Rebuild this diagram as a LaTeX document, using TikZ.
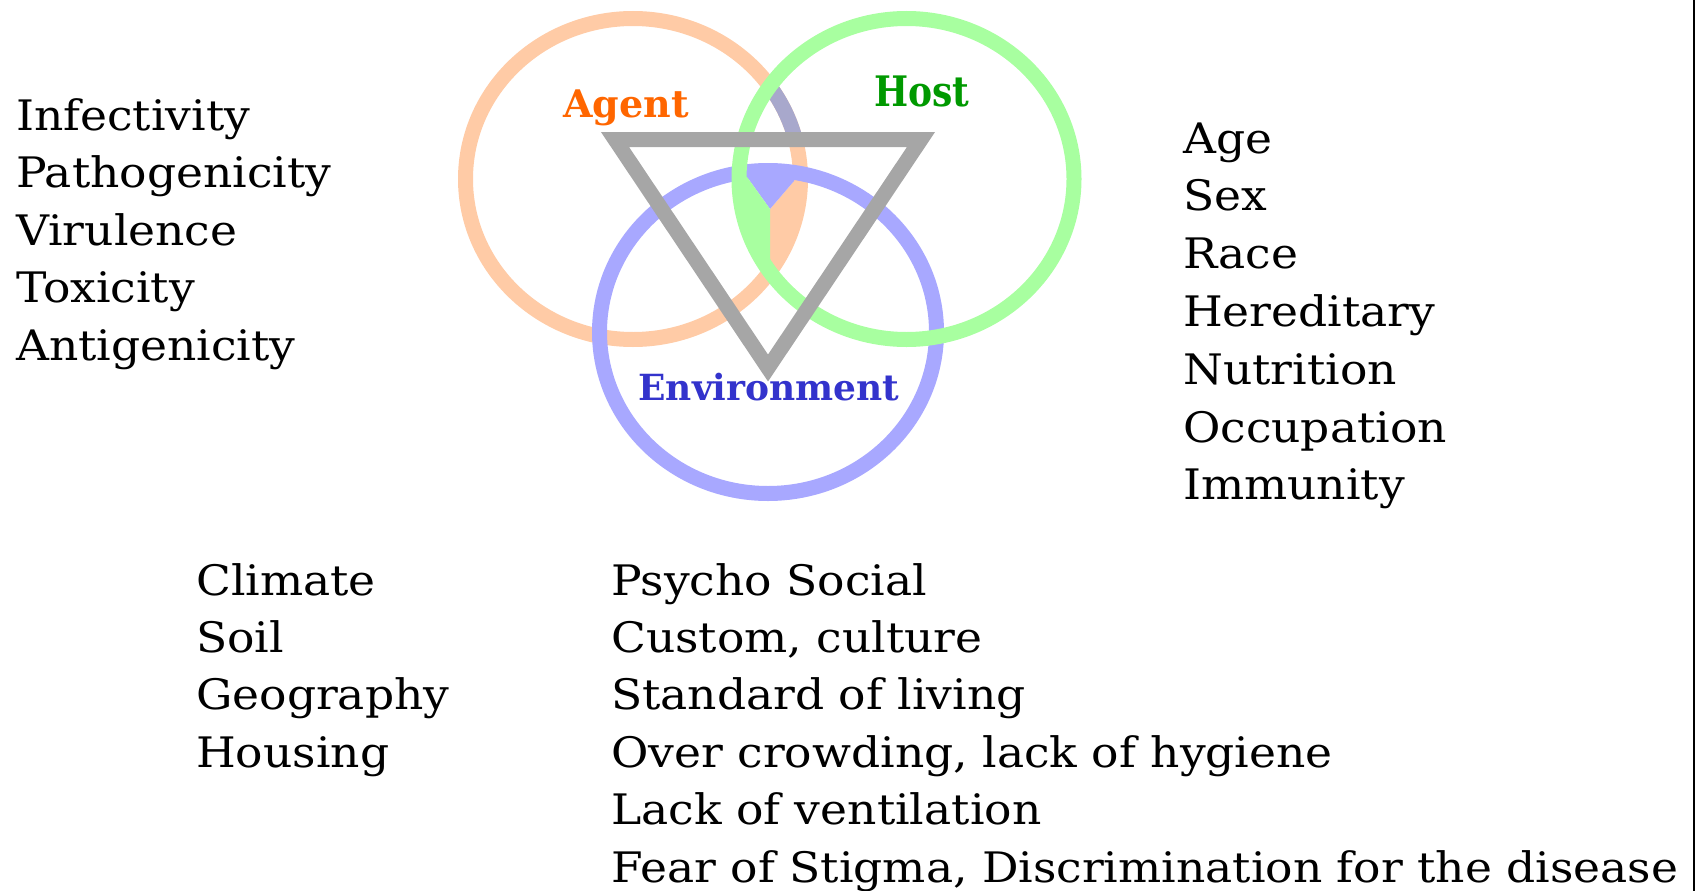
\documentclass[tikz,border=0pt]{standalone}
\usepackage{fontspec}
\setmainfont{DejaVu Serif}[FakeStretch=1.085]
\newfontfamily\titlefont{DejaVu Serif}
\definecolor{agentring}{HTML}{FFCBA6}
\definecolor{hostring}{HTML}{A8FFA0}
\definecolor{envring}{HTML}{A8A8FF}
\definecolor{mixring}{HTML}{A8A8CC}
\definecolor{trigray}{HTML}{A6A6A6}
\definecolor{agenttext}{HTML}{FF6600}
\definecolor{hosttext}{HTML}{009900}
\definecolor{envtext}{HTML}{3333CC}
\begin{document}
\begin{tikzpicture}[x=1pt,y=-1pt,
    ring/.style={line width=15pt},
    title/.style={anchor=base,inner sep=0pt,font=\titlefont\bfseries\fontsize{38}{44}\selectfont},
    item/.style={anchor=base west,inner sep=0pt,font=\fontsize{42}{50}\selectfont}]
\useasboundingbox (0,0) rectangle (1702,891);
\coordinate (agent) at (633,179);
\coordinate (host) at (906.5,179);
\coordinate (env) at (768,332);
% the three rings, agent at the bottom
\draw[ring,agentring] (agent) ellipse (167.5 and 160.5);
\begin{scope}
  \clip (host) ellipse (167.5 and 160.5);
  \clip (700,0) rectangle (850,132);
  \draw[ring,mixring] (agent) ellipse (167.5 and 160.5);
\end{scope}
\begin{scope}
  \clip (agent) ellipse (167.5 and 160.5);
  \fill[agentring] (770,209) -- (794,181) -- (820,181) -- (820,275) -- (770,275) -- cycle;
\end{scope}
\begin{scope}
  \clip (env) ellipse (168.5 and 161.5);
  \fill[envring] (745,150) -- (747,177) -- (770,209) -- (794,181) -- (800,150) -- cycle;
\end{scope}
\draw[ring,envring] (env) ellipse (168.5 and 161.5);
\begin{scope}
  \clip (host) ellipse (167.5 and 160.5);
  \fill[hostring] (720,177) -- (747,177) -- (770,209) -- (770,270) -- (720,270) -- cycle;
\end{scope}
\draw[ring,hostring] (host) ellipse (167.5 and 160.5);
% triangle on top
\coordinate (ta) at (615,139.5);
\coordinate (tb) at (921,139.5);
\coordinate (tc) at (768,368);
\draw[line width=15pt,trigray] (ta) -- (tb) -- (tc) -- cycle;
\node[title,agenttext] (agentlabel) at (626,117) {Agent};
\node[title,hosttext,font=\titlefont\bfseries\fontsize{42}{48}\selectfont,xscale=0.86] (hostlabel) at (922,106) {Host};
\node[title,envtext,font=\titlefont\bfseries\fontsize{36}{42}\selectfont] (envlabel) at (769,400) {Environment};
% factor lists
\foreach \t [count=\i] in {Infectivity,Pathogenicity,Virulence,Toxicity,Antigenicity}
  \node[item] (agent\i) at (16,{130+57.5*(\i-1)}) {\t};
\foreach \t [count=\i] in {Age,Sex,Race,Hereditary,Nutrition,Occupation,Immunity}
  \node[item] (host\i) at (1183,{153+57.8*(\i-1)}) {\t};
\foreach \t [count=\i] in {Climate,Soil,Geography,Housing}
  \node[item] (phys\i) at (196,{595+57.4*(\i-1)}) {\t};
\foreach \t [count=\i] in {Psycho Social,{Custom, culture},Standard of living,{Over crowding, lack of hygiene},Lack of ventilation,{Fear of Stigma, Discrimination for the disease}}
  \node[item] (soc\i) at (611,{595+57.4*(\i-1)}) {\t};
\coordinate (ruletop) at (1694,0);
\coordinate (rulebot) at (1694,891);
\draw[line width=2pt] (ruletop) -- (rulebot);
\end{tikzpicture}
\end{document}
